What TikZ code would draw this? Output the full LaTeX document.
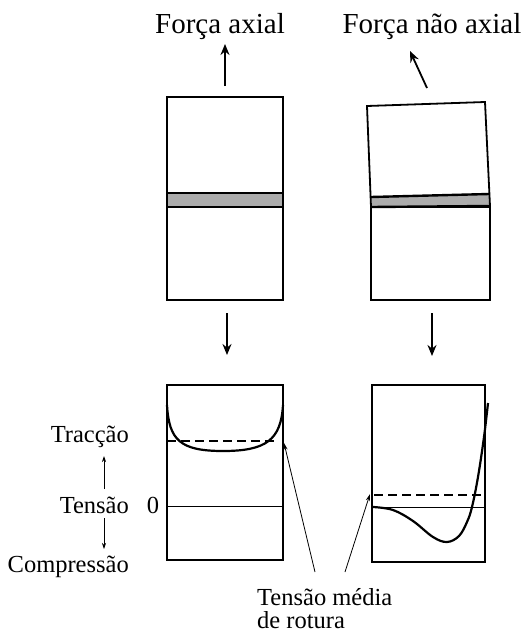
\documentclass[tikz,border=0pt]{standalone}
\usepackage{fontspec}
\setmainfont{Liberation Serif}
\usetikzlibrary{arrows.meta}
\begin{document}
\begin{tikzpicture}[x=1pt,y=-1pt,
  boxline/.style={line width=1.8pt},
  thinbox/.style={line width=1.1pt},
  forcearrow/.style={line width=1.8pt,-{Stealth[length=11pt,width=9pt]}},
  smallarrow/.style={line width=0.7pt,-{Stealth[length=6pt,width=4pt]}},
  pointer/.style={line width=0.8pt,-{Stealth[length=7pt,width=4pt]}},
  curve/.style={line width=2.2pt},
  meanline/.style={line width=2.2pt,dash pattern=on 9pt off 5pt},
  title/.style={font=\fontsize{29}{32}\selectfont,inner sep=0pt},
  lab/.style={font=\fontsize{24.5}{27}\selectfont,inner sep=0pt}]
\useasboundingbox (0,0) rectangle (525,633);

% titles
\node[title] (t1) at (220,27) {Força axial};
\node[title] (t2) at (432,27) {Força não axial};

% top force arrows
\coordinate (a1s) at (225,86); \coordinate (a1e) at (225,44);
\draw[forcearrow] (a1s) -- (a1e);
\coordinate (a2s) at (427,88); \coordinate (a2e) at (410,51);
\draw[forcearrow] (a2s) -- (a2e);

% left specimen
\fill[gray!65] (167,193) rectangle (283,207);
\draw[boxline] (167,97) rectangle (283,300);
\draw[line width=2.4pt] (167,193) -- (283,193);
\draw[line width=2.4pt] (167,207) -- (283,207);

% right specimen (tilted top)
\fill[gray!65] (371,197) -- (489,194) -- (489,206) -- (371,207) -- cycle;
\draw[boxline] (371,207) -- (367,106) -- (485,102) -- (490,206);
\draw[line width=2.4pt] (371,197) -- (489,194);
\draw[boxline] (371,207) rectangle (490,300);
\draw[line width=2.4pt] (371,207) -- (490,206);

% bottom force arrows
\coordinate (b1s) at (227,313); \coordinate (b1e) at (227,355);
\draw[forcearrow] (b1s) -- (b1e);
\coordinate (b2s) at (432,313); \coordinate (b2e) at (432,356);
\draw[forcearrow] (b2s) -- (b2e);

% stress diagrams
\draw[thinbox] (167,385) rectangle (283,560);
\draw[thinbox] (372,385) rectangle (485,562);
\draw[line width=1pt] (167,506) -- (283,506);
\draw[line width=1pt] (372,507) -- (485,507);

% left curve and mean line
\draw[meanline] (167,441) -- (278,441);
\draw[curve] (167,405) .. controls (169,440) and (180,451) .. (223,451)
   .. controls (266,451) and (281,440) .. (283,405);

% right curve and mean line
\draw[meanline] (374,495) -- (483,495);
\draw[curve] plot[smooth,tension=0.6] coordinates {(373,507) (393,510) (413,521) (433,537) (447,542) (459,536) (467,522) (472,507) (478,477) (484,437) (488,403)};

% left labels
\node[lab,anchor=east] (tr) at (129,437) {Tracção};
\node[lab,anchor=east] (te) at (129,505) {Tensão};
\node[lab,anchor=east] (co) at (129,567) {Compressão};
\node[lab] (z) at (153,505) {0};
\coordinate (u1) at (104,489); \coordinate (u2) at (104,456);
\draw[smallarrow] (u1) -- (u2);
\coordinate (d1) at (104,518); \coordinate (d2) at (104,549);
\draw[smallarrow] (d1) -- (d2);

% annotation
\node[lab,align=left,anchor=north west] (ann) at (257,588) {Tensão média\\[-4pt]de rotura};
\coordinate (p1s) at (315,572); \coordinate (p1e) at (284,443);
\coordinate (p2s) at (345,572); \coordinate (p2e) at (370,494);
\draw[pointer] (p1s) -- (p1e);
\draw[pointer] (p2s) -- (p2e);
\end{tikzpicture}
\end{document}
